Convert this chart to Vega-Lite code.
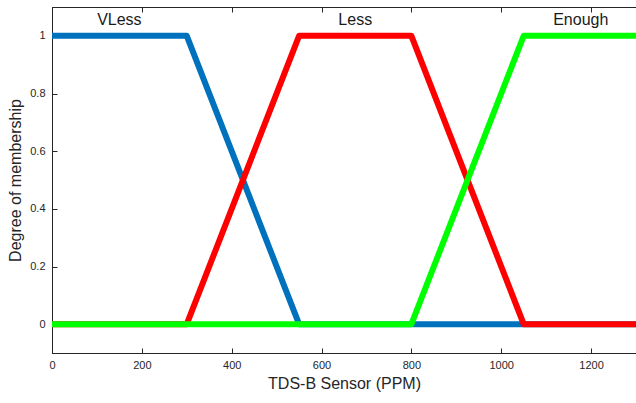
{
  "$schema": "https://vega.github.io/schema/vega-lite/v6.json",
  "width": 584,
  "height": 346,
  "autosize": "none",
  "padding": {"left": 52, "top": 7, "right": 0, "bottom": 50},
  "background": "white",
  "config": {
    "font": "Liberation Sans",
    "view": {"stroke": "#262626", "strokeWidth": 1},
    "axis": {
      "grid": false,
      "domainColor": "#262626",
      "tickColor": "#262626",
      "labelColor": "#262626",
      "titleColor": "#262626",
      "labelFont": "Liberation Sans",
      "titleFont": "Liberation Sans",
      "labelFontSize": 11,
      "titleFontSize": 16,
      "titleFontWeight": "normal",
      "tickSize": -5,
      "labelFlush": false
    }
  },
  "datasets": {
    "mf": [
      {"series": "VLess", "x": 0, "y": 1},
      {"series": "VLess", "x": 300, "y": 1},
      {"series": "VLess", "x": 550, "y": 0},
      {"series": "VLess", "x": 1300, "y": 0},
      {"series": "Less", "x": 0, "y": 0},
      {"series": "Less", "x": 300, "y": 0},
      {"series": "Less", "x": 550, "y": 1},
      {"series": "Less", "x": 800, "y": 1},
      {"series": "Less", "x": 1050, "y": 0},
      {"series": "Less", "x": 1300, "y": 0},
      {"series": "Enough", "x": 0, "y": 0},
      {"series": "Enough", "x": 800, "y": 0},
      {"series": "Enough", "x": 1050, "y": 1},
      {"series": "Enough", "x": 1300, "y": 1}
    ],
    "labels": [
      {"label": "VLess", "x": 150, "y": 1.055},
      {"label": "Less", "x": 675, "y": 1.055},
      {"label": "Enough", "x": 1177, "y": 1.055}
    ]
  },
  "resolve": {"axis": {"x": "independent"}},
  "layer": [
    {
      "data": {"name": "mf"},
      "transform": [{"filter": "datum.series == 'VLess'"}],
      "mark": {"type": "line", "color": "#0072BD", "strokeWidth": 6, "strokeJoin": "round", "clip": true},
      "encoding": {
        "x": {"field": "x", "type": "quantitative", "scale": {"domain": [0, 1300], "nice": false, "zero": false},
          "axis": {"title": "TDS-B Sensor (PPM)", "format": "d", "values": [0, 200, 400, 600, 800, 1000, 1200], "labelPadding": 11, "titlePadding": 5}},
        "y": {"field": "y", "type": "quantitative", "scale": {"domain": [-0.1, 1.1], "nice": false, "zero": false},
          "axis": {"title": "Degree of membership", "format": "~g", "values": [0, 0.2, 0.4, 0.6, 0.8, 1], "labelPadding": 12, "titlePadding": 6}}
      }
    },
    {
      "data": {"name": "mf"},
      "transform": [{"filter": "datum.series == 'Less'"}],
      "mark": {"type": "line", "color": "#FF0000", "strokeWidth": 6, "strokeJoin": "round", "clip": true},
      "encoding": {
        "x": {"field": "x", "type": "quantitative", "axis": {"orient": "top", "labels": false, "title": null, "values": [0, 200, 400, 600, 800, 1000, 1200]}},
        "y": {"field": "y", "type": "quantitative"}
      }
    },
    {
      "data": {"name": "mf"},
      "transform": [{"filter": "datum.series == 'Enough'"}],
      "mark": {"type": "line", "color": "#00FF00", "strokeWidth": 6, "strokeJoin": "round", "clip": true},
      "encoding": {
        "x": {"field": "x", "type": "quantitative", "axis": null},
        "y": {"field": "y", "type": "quantitative"}
      }
    },
    {
      "data": {"name": "labels"},
      "mark": {"type": "text", "font": "Liberation Sans", "fontSize": 16, "color": "#1a1a1a", "align": "center", "baseline": "middle"},
      "encoding": {
        "x": {"field": "x", "type": "quantitative", "axis": null},
        "y": {"field": "y", "type": "quantitative"},
        "text": {"field": "label"}
      }
    }
  ]
}
